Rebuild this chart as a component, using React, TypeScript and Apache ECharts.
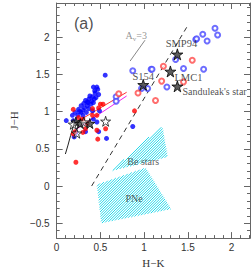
import React, { useEffect, useRef } from 'react';
import * as echarts from 'echarts';

const xMajor = [0, 0.5, 1, 1.5, 2];
const yMajor = [-0.5, 0, 0.5, 1, 1.5, 2];
const xRange = [0, 2.21];
const yRange = [-0.7, 2.46];

const blueFilled = [
  [0.555, 1.49], [0.42, 1.33], [0.46, 1.33], [0.435, 1.28], [0.48, 1.23], [0.45, 1.19], [0.41, 1.2],
  [0.37, 1.17], [0.4, 1.14], [0.35, 1.13], [0.31, 1.11], [0.39, 1.1], [0.35, 1.08], [0.28, 1.08],
  [0.32, 1.05], [0.25, 1.03], [0.37, 1.04], [0.28, 0.99], [0.34, 0.99], [0.21, 0.99], [0.41, 1.01],
  [0.24, 0.95], [0.3, 0.95], [0.18, 0.95], [0.11, 0.88], [0.19, 0.88], [0.42, 0.9], [0.46, 0.86],
  [0.87, 0.8], [0.48, 0.73], [0.57, 0.64], [0.33, 0.73], [0.2, 0.66], [0.22, 0.72], [0.44, 1.25],
  [0.43, 1.17], [0.38, 1.21], [0.33, 1.15], [0.3, 1.02], [0.26, 1.0], [0.36, 1.12], [0.42, 1.12],
  [0.47, 1.3], [0.49, 1.01],
];
const redFilled = [
  [0.89, 1.01], [0.56, 0.77], [0.47, 0.63], [0.22, 0.32], [0.3, 0.72], [0.33, 0.77], [0.19, 0.7],
  [0.5, 1.1], [0.53, 1.1], [0.48, 1.05], [0.41, 1.04], [0.41, 0.95], [0.46, 0.95], [0.19, 1.03],
  [0.25, 0.92], [0.3, 0.9], [0.35, 0.84], [0.46, 0.75], [0.21, 0.73],
];
const blueOpen = [
  [1.81, 2.12], [1.67, 2.04], [1.84, 2.03], [1.59, 1.97], [1.6, 1.98], [1.72, 1.95], [1.36, 1.7],
  [1.45, 1.58], [1.68, 1.57], [0.87, 1.55], [1.08, 1.57], [1.09, 1.57], [1.26, 1.33], [0.97, 1.31],
  [1.04, 1.31], [0.68, 1.2], [0.68, 1.14],
];
const redOpen = [
  [1.55, 1.69], [1.22, 1.61], [1.2, 1.41], [1.45, 1.4], [0.93, 1.25], [1.13, 1.15], [0.71, 1.24],
];
const namedStars = [
  { name: 'SMP94', value: [1.38, 1.77] },
  { name: 'LMC1', value: [1.3, 1.54] },
  { name: "Sanduleak's star", value: [1.38, 1.34] },
  { name: 'S154', value: [0.99, 1.36] },
];
const clusterStarsFilled = [[0.22, 0.86], [0.27, 0.84], [0.38, 0.84]];
const clusterStarsOpen = [[0.56, 0.87], [0.23, 0.71], [0.19, 0.83], [0.31, 0.86]];

const reddeningLine = [[0.4, 0.0], [1.5, 2.16]];
const avLine = [[0.84, 1.68], [1.01, 1.96]];
const redLine = [[0.2, 0.84], [0.8, 1.26]];
const magentaLine = [[0.22, 0.76], [0.8, 1.21]];
const blackLocus = [[0.1, 0.43], [0.13, 0.55], [0.16, 0.68], [0.19, 0.8], [0.22, 0.86], [0.27, 0.89], [0.32, 0.9]];

const beRegion = [[0.62, 0.2], [1.18, 0.79], [1.21, 0.79], [1.27, 0.39]];
const pneRegion = [[0.46, 0.02], [1.0, 0.24], [1.02, 0.24], [1.31, -0.31], [0.51, -0.5]];
const regions = [beRegion, pneRegion];

const annotations = [
  { text: '(a)', value: [0.31, 2.19], size: 16, family: 'Liberation Sans', color: '#222' },
  { text: 'Be stars', value: [0.99, 0.33], size: 10, family: 'Liberation Serif', color: '#333' },
  { text: 'PNe', value: [0.885, -0.17], size: 10, family: 'Liberation Serif', color: '#333' },
];
const avLabel = [0.91, 2.02];

const STAR = 'path://M50,0 L61,35 L98,35 L68,57 L79,91 L50,70 L21,91 L32,57 L2,35 L39,35 Z';
const fmt = (v: number) => (v < 0 ? '\u2212' + Math.abs(v) : String(v));

function hatch(poly: number[][], step: number) {
  const sums = poly.map((p) => p[0] + p[1]);
  const cMin = Math.min(...sums);
  const cMax = Math.max(...sums);
  const lines: any[] = [];
  const start = Math.ceil(cMin / step) * step;
  for (let c = start; c <= cMax; c += step) {
    const xs: number[] = [];
    for (let i = 0; i < poly.length; i++) {
      const a = poly[i];
      const b = poly[(i + 1) % poly.length];
      const sa = a[0] + a[1];
      const d = b[0] - a[0] + (b[1] - a[1]);
      if (Math.abs(d) < 1e-9) continue;
      const u = (c - sa) / d;
      if (u >= 0 && u <= 1) xs.push(a[0] + u * (b[0] - a[0]));
    }
    if (xs.length < 2) continue;
    const x1 = Math.min(...xs);
    const x2 = Math.max(...xs);
    lines.push({
      type: 'line',
      shape: { x1, y1: c - x1, x2, y2: c - x2 },
      style: { stroke: '#22d8ea', lineWidth: 1 },
    });
  }
  return lines;
}

export default function App() {
  const ref = useRef<HTMLDivElement>(null);
  useEffect(() => {
    if (!ref.current) return;
    const chart = echarts.init(ref.current, null, { renderer: 'svg' });
    const axisColor = '#666';
    const tickFont = { fontFamily: 'Liberation Sans', fontSize: 10, color: '#333' };
    const majorX = (pos: string, labels: boolean) => ({
      type: 'value', min: xRange[0], max: xRange[1], position: pos,
      axisLine: { show: true, onZero: false, lineStyle: { color: axisColor } },
      axisTick: { show: true, inside: true, length: 6, customValues: xMajor, lineStyle: { color: axisColor } },
      axisLabel: labels ? { show: true, customValues: xMajor, formatter: fmt, margin: 4, ...tickFont } : { show: false },
      splitLine: { show: false },
      ...(labels ? { name: 'H\u2212K', nameLocation: 'middle', nameGap: 14, nameTextStyle: { fontFamily: 'Liberation Serif', fontSize: 11, color: '#333' } } : {}),
    });
    const minorX = (pos: string) => ({
      type: 'value', min: xRange[0], max: xRange[1], interval: 0.1, position: pos,
      axisLine: { show: false, onZero: false }, axisTick: { show: true, inside: true, length: 3, lineStyle: { color: axisColor } },
      axisLabel: { show: false }, splitLine: { show: false },
    });
    const majorY = (pos: string, labels: boolean) => ({
      type: 'value', min: yRange[0], max: yRange[1], position: pos,
      axisLine: { show: true, onZero: false, lineStyle: { color: axisColor } },
      axisTick: { show: true, inside: true, length: 6, customValues: yMajor, lineStyle: { color: axisColor } },
      axisLabel: labels ? { show: true, customValues: yMajor, formatter: fmt, margin: 7, ...tickFont } : { show: false },
      splitLine: { show: false },
      ...(labels ? { name: 'J\u2212H', nameLocation: 'middle', nameGap: 31, nameTextStyle: { fontFamily: 'Liberation Serif', fontSize: 11, color: '#333' } } : {}),
    });
    const minorY = (pos: string) => ({
      type: 'value', min: yRange[0], max: yRange[1], interval: 0.1, position: pos,
      axisLine: { show: false, onZero: false }, axisTick: { show: true, inside: true, length: 3, lineStyle: { color: axisColor } },
      axisLabel: { show: false }, splitLine: { show: false },
    });
    const lineSeries = (data: number[][], color: string, type: any = 'solid', width = 1) => ({
      type: 'line', data, showSymbol: false, symbol: 'none', silent: true,
      lineStyle: { color, width, type }, z: 3,
    });
    chart.setOption({
      animation: false,
      backgroundColor: '#fff',
      grid: { left: 42, right: 1, top: 3, bottom: 26 },
      xAxis: [majorX('bottom', true), minorX('bottom'), majorX('top', false), minorX('top')],
      yAxis: [majorY('left', true), minorY('left'), majorY('right', false), minorY('right')],
      series: [
        {
          type: 'custom', silent: true, z: 1,
          data: regions.map((_, i) => [i, 0]),
          renderItem: (params: any, api: any) => {
            const poly = regions[api.value(0)].map((p) => api.coord(p));
            return { type: 'group', children: hatch(poly, 2.6) };
          },
        },
        lineSeries(reddeningLine, '#333', [5, 4]),
        lineSeries(avLine, '#888'),
        lineSeries(redLine, '#ff3030'),
        lineSeries(magentaLine, '#ee22ee'),
        lineSeries(blackLocus, '#222'),
        {
          type: 'scatter', data: blueFilled, symbol: 'circle', symbolSize: 5, z: 4,
          itemStyle: { color: '#0000ff' },
        },
        {
          type: 'scatter', data: redFilled, symbol: 'circle', symbolSize: 5, z: 4,
          itemStyle: { color: '#ff0000' },
        },
        {
          type: 'scatter', data: blueOpen, symbol: 'emptyCircle', symbolSize: 5, z: 4,
          itemStyle: { color: '#4a4aff', borderColor: '#4a4aff', borderWidth: 0.8 },
        },
        {
          type: 'scatter', data: redOpen, symbol: 'emptyCircle', symbolSize: 5, z: 4,
          itemStyle: { color: '#ff4a4a', borderColor: '#ff4a4a', borderWidth: 0.8 },
        },
        {
          type: 'scatter', data: clusterStarsFilled, symbol: STAR, symbolSize: 10, z: 5,
          itemStyle: { color: '#444', borderColor: '#000', borderWidth: 1 },
        },
        {
          type: 'scatter', data: clusterStarsOpen, symbol: STAR, symbolSize: 10, z: 5,
          itemStyle: { color: 'rgba(255,255,255,0.6)', borderColor: '#111', borderWidth: 1 },
        },
        {
          type: 'scatter', symbol: STAR, symbolSize: 11, z: 6,
          itemStyle: { color: '#333', borderColor: '#000', borderWidth: 1 },
          data: namedStars.map((s, i) => ({
            name: s.name, value: s.value,
            label: [
              { position: 'top', distance: 0, offset: [4, 1] },
              { position: 'right', distance: -2, offset: [0, 6] },
              { position: 'right', distance: -1, offset: [0, 5], fontSize: 10 },
              { position: 'top', distance: -3, offset: [0, 0] },
            ][i],
          })),
          label: { show: true, formatter: '{b}', fontFamily: 'Liberation Serif', fontSize: 10.5, color: '#222' },
        },
        {
          type: 'scatter', symbolSize: 1, z: 7, silent: true,
          itemStyle: { color: 'rgba(0,0,0,0)' },
          data: annotations.map((a) => ({
            value: a.value,
            label: { show: true, position: 'inside', formatter: a.text, fontFamily: a.family, fontSize: a.size, color: a.color },
          })),
        },
        {
          type: 'scatter', symbolSize: 1, z: 7, silent: true,
          itemStyle: { color: 'rgba(0,0,0,0)' },
          data: [{ value: avLabel }],
          label: {
            show: true, position: 'inside',
            formatter: '{a|A}{s|v}{a|=3}',
            rich: {
              a: { fontFamily: 'Liberation Serif', fontSize: 10, color: '#777' },
              s: { fontFamily: 'Liberation Serif', fontSize: 7, color: '#777', verticalAlign: 'bottom', padding: [6, 0, 0, 0] },
            },
          },
        },
      ],
    });
    return () => chart.dispose();
  }, []);
  return <div ref={ref} style={{ position: 'fixed', left: 0, top: 0, width: 251, height: 273 }} />;
}
